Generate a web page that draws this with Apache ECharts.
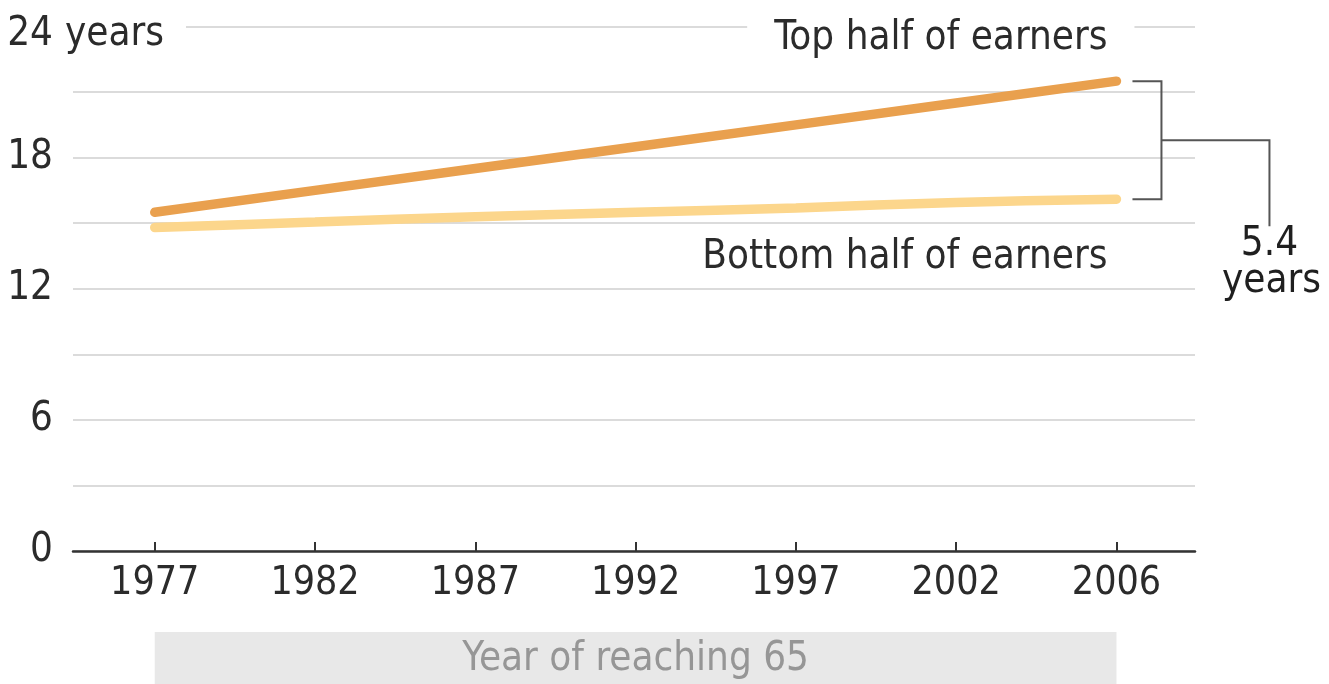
<!DOCTYPE html>
<html>
<head>
<meta charset="utf-8">
<title>Years of life after 65</title>
<script src="https://cdn.jsdelivr.net/npm/echarts@6/dist/echarts.min.js"></script>
<style>
  html, body { margin: 0; padding: 0; background: #ffffff; }
  #chart { width: 1329px; height: 684px; }
</style>
</head>
<body>
<div id="chart"></div>
<script>
// Year of reaching 65 (evenly spaced on the axis)
const years = ['1977', '1982', '1987', '1992', '1997', '2002', '2006'];
// Remaining life expectancy at 65, in years
const topHalf = [15.5, 16.5, 17.5, 18.5, 19.5, 20.5, 21.5];
const bottomHalf = [14.8, 15.05, 15.3, 15.5, 15.7, 15.95, 16.1];
// Labelled y ticks (the top one carries the unit)
const yTicks = [0, 6, 12, 18, 24];
const yUnit = 'years';

const FONT = '"Liberation Sans Narrow", "DejaVu Sans Condensed", "Roboto", sans-serif';
const FS = 40;
const TEXT = '#2b2b2b';
const TOP_COLOR = '#e9a04e';
const BOTTOM_COLOR = '#fcd68c';

const idx = years.map((_, i) => i);
const toPairs = arr => arr.map((v, i) => [i, v]);
const yMax = yTicks[yTicks.length - 1];

const chart = echarts.init(document.getElementById('chart'), null, { renderer: 'canvas' });

chart.setOption({
  backgroundColor: '#ffffff',
  animation: false,
  grid: { left: 73, right: 134, top: 26.5, bottom: 133, containLabel: false },
  xAxis: {
    type: 'value',
    min: -0.51,
    max: 6.49,
    splitLine: { show: false },
    axisLine: { show: true, lineStyle: { color: '#333333', width: 2.5 } },
    axisTick: {
      show: true, inside: true, length: 9, customValues: idx,
      lineStyle: { color: '#333333', width: 2 }
    },
    axisLabel: {
      show: true, customValues: idx, margin: 13,
      formatter: v => years[Math.round(v)],
      fontFamily: FONT, fontSize: 39, color: TEXT, lineHeight: 39
    }
  },
  yAxis: {
    type: 'value',
    min: 0,
    max: yMax,
    interval: 3,
    axisLine: { show: false },
    axisTick: { show: false },
    splitLine: { show: true, lineStyle: { color: '#cfcfcf', width: 1.5 } },
    axisLabel: {
      margin: 20,
      formatter: v => (yTicks.indexOf(v) >= 0 && v !== yMax ? String(v) : ''),
      fontFamily: FONT, fontSize: FS, color: TEXT,
      verticalAlign: 'middle', padding: [10, 0, 0, 0]
    }
  },
  series: [
    {
      name: 'Bottom half of earners',
      type: 'line',
      data: toPairs(bottomHalf),
      smooth: 0.3,
      showSymbol: false,
      lineStyle: { color: BOTTOM_COLOR, width: 9.5, cap: 'round' },
      z: 3
    },
    {
      name: 'Top half of earners',
      type: 'line',
      data: toPairs(topHalf),
      showSymbol: false,
      lineStyle: { color: TOP_COLOR, width: 9.5, cap: 'round' },
      z: 4
    }
  ]
});

// Annotations placed from the chart's own scales
const px = p => chart.convertToPixel({ gridIndex: 0 }, p);
const last = years.length - 1;
const topEnd = px([last, topHalf[last]]);
const botEnd = px([last, bottomHalf[last]]);
const start = px([0, 0]);
const end0 = px([last, 0]);
const yTop = px([0, yMax])[1];
const gap = (topHalf[last] - bottomHalf[last]).toFixed(1);

const bx = topEnd[0] + 45;      // bracket spine
const midY = (topEnd[1] + botEnd[1]) / 2;
const outX = bx + 108;          // leader to the gap label

chart.setOption({
  graphic: [
    {
      type: 'text', z: 10, x: 53, y: yTop + 8,
      style: {
        text: String(yMax), fontFamily: FONT, fontSize: FS, fill: TEXT,
        align: 'right', verticalAlign: 'middle'
      }
    },
    {
      type: 'text', z: 10, x: 63, y: yTop + 8,
      style: {
        text: yUnit, fontFamily: FONT, fontSize: FS, fill: TEXT,
        align: 'left', verticalAlign: 'middle',
        backgroundColor: '#ffffff', padding: [0, 22, 0, 2]
      }
    },
    {
      type: 'text', z: 10, x: topEnd[0] + 18, y: yTop + 12,
      style: {
        text: 'Top half of earners', fontFamily: FONT, fontSize: FS, fill: TEXT,
        align: 'right', verticalAlign: 'middle',
        backgroundColor: '#ffffff', padding: [0, 27, 0, 27]
      }
    },
    {
      type: 'text', z: 10, x: topEnd[0] - 9, y: botEnd[1] + 58,
      style: {
        text: 'Bottom half of earners', fontFamily: FONT, fontSize: FS, fill: TEXT,
        align: 'right', verticalAlign: 'middle'
      }
    },
    {
      type: 'polyline', z: 10,
      shape: { points: [[topEnd[0] + 16, topEnd[1]], [bx, topEnd[1]], [bx, botEnd[1]], [topEnd[0] + 16, botEnd[1]]] },
      style: { stroke: '#555555', lineWidth: 2, fill: null }
    },
    {
      type: 'polyline', z: 10,
      shape: { points: [[bx, midY], [outX, midY], [outX, midY + 86]] },
      style: { stroke: '#555555', lineWidth: 2, fill: null }
    },
    {
      type: 'text', z: 10, x: outX, y: midY + 104,
      style: {
        text: gap, fontFamily: FONT, fontSize: FS, fill: '#1f1f1f',
        align: 'center', verticalAlign: 'middle'
      }
    },
    {
      type: 'text', z: 10, x: outX + 2, y: midY + 141,
      style: {
        text: 'years', fontFamily: FONT, fontSize: FS, fill: '#1f1f1f',
        align: 'center', verticalAlign: 'middle'
      }
    },
    {
      type: 'rect', z: 1,
      shape: { x: start[0], y: 632, width: end0[0] - start[0], height: 60 },
      style: { fill: '#e8e8e8' }
    },
    {
      type: 'text', z: 2, x: (start[0] + end0[0]) / 2, y: 660,
      style: {
        text: 'Year of reaching 65', fontFamily: FONT, fontSize: FS, fill: '#969696',
        align: 'center', verticalAlign: 'middle'
      }
    }
  ]
});
</script>
</body>
</html>
